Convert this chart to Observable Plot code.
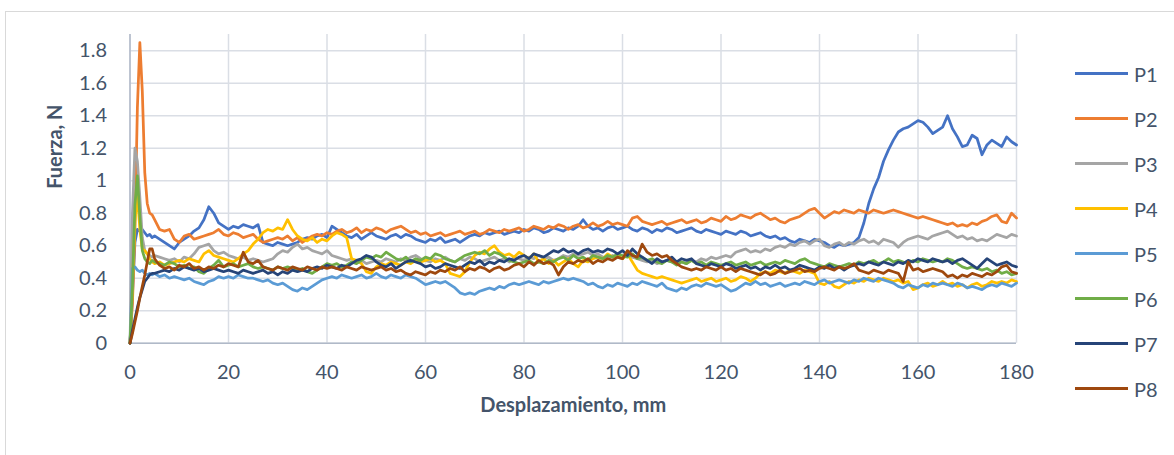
<!DOCTYPE html>
<html><head><meta charset="utf-8">
<script src="https://cdn.jsdelivr.net/npm/d3@7"></script>
<script src="https://cdn.jsdelivr.net/npm/@observablehq/plot@0.6"></script>
<style>
html,body{margin:0;padding:0;background:#fff;}
#wrap{position:relative;width:1174px;height:455px;overflow:hidden;font-family:Lato,sans-serif;color:#44546a;}
#frame{position:absolute;left:5px;top:11px;width:1200px;height:500px;border:1px solid #d9d9d9;box-sizing:border-box;}
#chart{position:absolute;left:0;top:0;}
.leg{position:absolute;left:1075px;height:24px;display:flex;align-items:center;font-size:20px;}
.leg .sw{display:inline-block;width:53px;height:2.75px;}
.leg .lb{margin-left:6px;}
</style></head><body>
<div id="wrap"><div id="frame"></div><div id="chart"></div><div id="legend"></div></div>
<script>
const names = ["P1","P2","P3","P4","P5","P6","P7","P8"];
const colors = ["#4472C4","#ED7D31","#A5A5A5","#FFC000","#5B9BD5","#70AD47","#264478","#9E480E"];
const xTicks = [0,20,40,60,80,100,120,140,160,180];
const yTicks = [0,0.2,0.4,0.6,0.8,1,1.2,1.4,1.6,1.8];
const yTickLabels = ["0","0.2","0.4","0.6","0.8","1","1.2","1.4","1.6","1.8"];

const xs = [0,0.5,1,1.5,2,2.5,3,3.5,4,4.5,
5,6,7,8,9,10,11,12,13,14,15,16,17,18,19,20,21,22,23,24,25,26,27,28,29,30,31,32,33,34,
35,36,37,38,39,40,41,42,43,44,45,46,47,48,49,50,51,52,53,54,55,56,57,58,59,60,61,62,63,64,
65,66,67,68,69,70,71,72,73,74,75,76,77,78,79,80,81,82,83,84,85,86,87,88,89,90,91,92,93,94,
95,96,97,98,99,100,101,102,103,104,105,106,107,108,109,110,111,112,113,114,115,116,117,118,119,120,121,122,123,124,
125,126,127,128,129,130,131,132,133,134,135,136,137,138,139,140,141,142,143,144,145,146,147,148,149,150,151,152,153,154,
155,156,157,158,159,160,161,162,163,164,165,166,167,168,169,170,171,172,173,174,175,176,177,178,179,180];

const P1 = [0,0.30,0.62,0.70,0.69,0.70,0.68,0.66,0.67,0.65,
0.66,0.64,0.62,0.60,0.58,0.62,0.64,0.66,0.69,0.71,
0.76,0.84,0.80,0.74,0.72,0.70,0.72,0.71,0.73,0.72,
0.71,0.73,0.62,0.61,0.60,0.62,0.61,0.60,0.61,0.62,
0.64,0.65,0.64,0.66,0.67,0.65,0.72,0.70,0.68,0.66,
0.65,0.67,0.64,0.66,0.68,0.66,0.65,0.64,0.66,0.67,
0.65,0.67,0.66,0.64,0.63,0.62,0.64,0.63,0.65,0.62,
0.63,0.64,0.62,0.64,0.66,0.67,0.66,0.68,0.67,0.68,
0.69,0.67,0.68,0.69,0.68,0.70,0.69,0.71,0.70,0.68,
0.69,0.71,0.70,0.69,0.71,0.70,0.72,0.76,0.72,0.70,
0.71,0.69,0.71,0.72,0.70,0.71,0.72,0.70,0.69,0.71,
0.70,0.68,0.70,0.69,0.71,0.70,0.68,0.69,0.70,0.71,
0.69,0.68,0.70,0.69,0.68,0.67,0.69,0.68,0.67,0.69,
0.68,0.66,0.67,0.68,0.66,0.65,0.66,0.64,0.65,0.63,
0.62,0.64,0.63,0.62,0.64,0.63,0.62,0.60,0.59,0.61,
0.60,0.61,0.62,0.65,0.74,0.86,0.95,1.02,1.12,1.19,
1.25,1.30,1.32,1.33,1.35,1.37,1.36,1.33,1.29,1.31,
1.33,1.40,1.32,1.27,1.21,1.22,1.28,1.26,1.16,1.22,
1.25,1.23,1.21,1.27,1.24,1.22];

const P2 = [0,0.25,0.70,1.45,1.85,1.55,1.05,0.86,0.80,0.79,
0.76,0.70,0.69,0.70,0.64,0.62,0.66,0.67,0.64,0.65,
0.66,0.67,0.68,0.70,0.67,0.66,0.68,0.67,0.65,0.66,
0.67,0.64,0.62,0.63,0.64,0.65,0.64,0.66,0.63,0.65,
0.62,0.64,0.66,0.67,0.66,0.68,0.67,0.69,0.70,0.68,
0.69,0.71,0.68,0.70,0.69,0.71,0.70,0.68,0.70,0.71,
0.72,0.70,0.68,0.69,0.67,0.68,0.66,0.67,0.68,0.66,
0.67,0.68,0.69,0.67,0.68,0.69,0.67,0.68,0.70,0.69,
0.68,0.70,0.69,0.70,0.71,0.69,0.70,0.72,0.71,0.70,
0.72,0.71,0.73,0.72,0.70,0.72,0.73,0.71,0.72,0.74,
0.72,0.73,0.75,0.73,0.74,0.73,0.72,0.77,0.78,0.75,
0.74,0.73,0.74,0.75,0.73,0.74,0.75,0.76,0.74,0.75,
0.76,0.74,0.75,0.77,0.76,0.75,0.78,0.76,0.77,0.79,
0.78,0.77,0.79,0.80,0.78,0.76,0.77,0.75,0.74,0.76,
0.77,0.78,0.80,0.82,0.83,0.80,0.77,0.79,0.81,0.80,
0.82,0.81,0.80,0.82,0.81,0.80,0.82,0.81,0.80,0.81,
0.82,0.81,0.80,0.79,0.78,0.77,0.78,0.77,0.76,0.75,
0.74,0.73,0.74,0.72,0.73,0.72,0.74,0.73,0.75,0.76,
0.78,0.79,0.75,0.74,0.80,0.77];

const P3 = [0,0.80,1.20,1.12,0.90,0.65,0.57,0.55,0.54,0.53,
0.54,0.53,0.52,0.51,0.52,0.50,0.53,0.52,0.55,0.59,
0.60,0.61,0.57,0.55,0.56,0.54,0.53,0.52,0.53,0.51,
0.52,0.51,0.50,0.51,0.52,0.55,0.57,0.56,0.59,0.61,
0.58,0.59,0.57,0.56,0.55,0.57,0.54,0.53,0.52,0.51,
0.52,0.50,0.51,0.49,0.50,0.51,0.50,0.52,0.51,0.50,
0.52,0.51,0.53,0.54,0.52,0.51,0.50,0.52,0.51,0.53,
0.51,0.50,0.52,0.51,0.53,0.52,0.50,0.51,0.52,0.53,
0.51,0.52,0.50,0.53,0.52,0.51,0.53,0.52,0.54,0.52,
0.53,0.51,0.52,0.54,0.53,0.55,0.54,0.55,0.56,0.54,
0.55,0.53,0.52,0.54,0.53,0.52,0.54,0.53,0.52,0.51,
0.50,0.51,0.49,0.50,0.51,0.50,0.49,0.50,0.49,0.51,
0.50,0.52,0.51,0.53,0.52,0.53,0.54,0.53,0.56,0.57,
0.58,0.56,0.57,0.56,0.58,0.57,0.59,0.60,0.59,0.61,
0.60,0.62,0.63,0.61,0.63,0.64,0.60,0.59,0.61,0.62,
0.60,0.62,0.61,0.63,0.64,0.62,0.63,0.61,0.64,0.63,
0.62,0.59,0.62,0.64,0.65,0.66,0.65,0.64,0.66,0.67,
0.68,0.69,0.67,0.65,0.66,0.64,0.65,0.63,0.64,0.63,
0.65,0.67,0.66,0.65,0.67,0.66];

const P4 = [0,0.35,0.75,0.92,0.70,0.58,0.57,0.55,0.52,0.50,
0.49,0.50,0.48,0.49,0.50,0.51,0.50,0.52,0.51,0.50,
0.55,0.57,0.54,0.53,0.52,0.51,0.50,0.52,0.55,0.57,
0.61,0.64,0.68,0.70,0.69,0.71,0.70,0.76,0.70,0.66,
0.64,0.63,0.65,0.62,0.64,0.63,0.66,0.68,0.67,0.65,
0.52,0.51,0.49,0.44,0.43,0.47,0.49,0.48,0.50,0.49,
0.48,0.50,0.49,0.51,0.50,0.51,0.52,0.50,0.51,0.49,
0.43,0.42,0.41,0.44,0.50,0.54,0.56,0.55,0.58,0.60,
0.56,0.54,0.55,0.53,0.56,0.54,0.52,0.55,0.50,0.52,
0.49,0.51,0.48,0.50,0.52,0.49,0.47,0.51,0.50,0.52,
0.53,0.52,0.55,0.53,0.54,0.52,0.55,0.50,0.45,0.43,
0.42,0.41,0.40,0.41,0.40,0.39,0.38,0.37,0.38,0.39,
0.40,0.38,0.39,0.40,0.38,0.39,0.40,0.38,0.39,0.41,
0.40,0.38,0.40,0.43,0.44,0.43,0.45,0.44,0.43,0.45,
0.44,0.43,0.45,0.44,0.43,0.37,0.36,0.38,0.35,0.34,
0.36,0.38,0.37,0.39,0.38,0.40,0.39,0.38,0.40,0.39,
0.38,0.39,0.37,0.38,0.33,0.34,0.36,0.37,0.35,0.36,
0.38,0.36,0.37,0.35,0.36,0.34,0.36,0.37,0.35,0.36,
0.38,0.37,0.38,0.37,0.39,0.38];

const P5 = [0,0.46,0.47,0.45,0.44,0.45,0.43,0.42,0.43,0.42,
0.43,0.41,0.42,0.40,0.41,0.40,0.39,0.40,0.38,0.37,
0.36,0.38,0.39,0.41,0.40,0.41,0.40,0.42,0.41,0.40,
0.40,0.39,0.38,0.39,0.37,0.36,0.37,0.35,0.33,0.32,
0.34,0.33,0.35,0.37,0.39,0.40,0.41,0.40,0.42,0.41,
0.40,0.41,0.42,0.40,0.41,0.43,0.41,0.40,0.42,0.41,
0.40,0.42,0.41,0.40,0.38,0.36,0.37,0.38,0.37,0.38,
0.36,0.34,0.31,0.30,0.31,0.30,0.32,0.33,0.34,0.33,
0.35,0.34,0.36,0.37,0.36,0.37,0.38,0.37,0.36,0.38,
0.37,0.38,0.39,0.40,0.39,0.40,0.39,0.38,0.36,0.37,
0.35,0.34,0.36,0.35,0.37,0.36,0.35,0.37,0.36,0.38,
0.37,0.36,0.35,0.37,0.34,0.33,0.32,0.34,0.33,0.35,
0.36,0.35,0.37,0.36,0.35,0.36,0.34,0.32,0.33,0.35,
0.37,0.36,0.38,0.36,0.37,0.35,0.36,0.37,0.35,0.36,
0.37,0.36,0.38,0.37,0.36,0.38,0.39,0.37,0.38,0.39,
0.38,0.37,0.39,0.38,0.40,0.39,0.38,0.40,0.39,0.38,
0.37,0.35,0.34,0.36,0.35,0.34,0.36,0.35,0.37,0.36,
0.37,0.36,0.35,0.37,0.36,0.34,0.35,0.34,0.33,0.35,
0.36,0.35,0.37,0.36,0.35,0.37];

const P6 = [0,0.35,0.85,1.03,0.78,0.57,0.52,0.50,0.49,0.51,
0.50,0.49,0.48,0.50,0.49,0.47,0.48,0.46,0.47,0.44,
0.43,0.46,0.48,0.51,0.47,0.48,0.49,0.47,0.48,0.49,
0.47,0.46,0.47,0.46,0.45,0.47,0.46,0.47,0.46,0.45,
0.46,0.44,0.43,0.45,0.47,0.49,0.48,0.49,0.47,0.48,
0.50,0.49,0.51,0.53,0.52,0.54,0.53,0.56,0.54,0.52,
0.51,0.53,0.50,0.52,0.51,0.53,0.52,0.55,0.54,0.52,
0.51,0.50,0.52,0.54,0.55,0.56,0.55,0.57,0.54,0.56,
0.55,0.53,0.51,0.50,0.49,0.50,0.51,0.49,0.50,0.49,
0.51,0.50,0.52,0.53,0.51,0.54,0.52,0.53,0.51,0.54,
0.53,0.52,0.54,0.53,0.55,0.54,0.53,0.55,0.52,0.53,
0.51,0.52,0.50,0.49,0.51,0.50,0.48,0.50,0.49,0.51,
0.49,0.50,0.48,0.50,0.49,0.48,0.49,0.50,0.48,0.49,
0.50,0.48,0.49,0.50,0.48,0.49,0.50,0.49,0.51,0.50,
0.49,0.51,0.52,0.50,0.49,0.48,0.47,0.49,0.48,0.47,
0.48,0.49,0.48,0.50,0.49,0.50,0.51,0.49,0.50,0.52,
0.50,0.51,0.50,0.49,0.51,0.50,0.52,0.51,0.50,0.51,
0.50,0.52,0.51,0.49,0.47,0.46,0.47,0.46,0.45,0.46,
0.44,0.45,0.43,0.44,0.42,0.43];

const P7 = [0,0.08,0.15,0.22,0.28,0.33,0.38,0.40,0.42,0.43,
0.43,0.44,0.45,0.44,0.46,0.45,0.47,0.46,0.45,0.46,
0.44,0.45,0.46,0.45,0.44,0.45,0.44,0.43,0.45,0.44,
0.43,0.44,0.45,0.43,0.44,0.42,0.44,0.43,0.45,0.44,
0.45,0.44,0.46,0.47,0.46,0.48,0.47,0.46,0.48,0.47,
0.49,0.51,0.52,0.54,0.53,0.50,0.48,0.47,0.49,0.46,
0.48,0.50,0.51,0.50,0.49,0.47,0.48,0.46,0.47,0.49,
0.48,0.47,0.46,0.48,0.50,0.49,0.51,0.48,0.50,0.49,
0.51,0.50,0.52,0.51,0.53,0.54,0.52,0.55,0.54,0.53,
0.55,0.57,0.56,0.58,0.56,0.57,0.55,0.57,0.58,0.56,
0.57,0.56,0.58,0.57,0.55,0.57,0.54,0.58,0.55,0.53,
0.51,0.49,0.52,0.50,0.51,0.53,0.50,0.52,0.51,0.52,
0.49,0.48,0.47,0.49,0.48,0.47,0.49,0.48,0.46,0.47,
0.48,0.46,0.47,0.45,0.47,0.46,0.48,0.46,0.47,0.45,
0.46,0.48,0.47,0.46,0.45,0.47,0.46,0.48,0.46,0.47,
0.45,0.47,0.48,0.49,0.48,0.50,0.49,0.48,0.50,0.49,
0.48,0.50,0.49,0.51,0.50,0.52,0.51,0.50,0.52,0.51,
0.50,0.51,0.49,0.51,0.52,0.50,0.48,0.46,0.49,0.52,
0.50,0.48,0.49,0.50,0.48,0.47];

const P8 = [0,0.06,0.13,0.20,0.28,0.35,0.42,0.50,0.58,0.58,
0.52,0.48,0.46,0.47,0.45,0.48,0.47,0.49,0.46,0.47,
0.45,0.47,0.46,0.48,0.47,0.49,0.48,0.47,0.56,0.50,
0.49,0.51,0.47,0.46,0.45,0.47,0.46,0.45,0.47,0.46,
0.45,0.47,0.46,0.45,0.47,0.46,0.47,0.46,0.45,0.47,
0.46,0.45,0.47,0.46,0.45,0.46,0.47,0.45,0.46,0.44,
0.45,0.43,0.42,0.44,0.43,0.42,0.44,0.43,0.45,0.44,
0.46,0.45,0.47,0.44,0.46,0.45,0.47,0.46,0.44,0.46,
0.47,0.45,0.46,0.48,0.49,0.47,0.50,0.48,0.51,0.49,
0.50,0.48,0.42,0.47,0.50,0.49,0.51,0.50,0.52,0.49,
0.51,0.50,0.52,0.51,0.53,0.52,0.57,0.54,0.53,0.61,
0.56,0.54,0.55,0.53,0.54,0.51,0.49,0.47,0.46,0.45,
0.46,0.45,0.47,0.46,0.45,0.47,0.45,0.46,0.44,0.46,
0.45,0.44,0.43,0.42,0.44,0.42,0.43,0.45,0.43,0.44,
0.45,0.46,0.44,0.45,0.44,0.46,0.47,0.46,0.45,0.47,
0.46,0.47,0.49,0.45,0.44,0.43,0.45,0.44,0.43,0.45,
0.44,0.43,0.38,0.50,0.45,0.46,0.44,0.45,0.46,0.45,
0.44,0.41,0.42,0.40,0.42,0.41,0.43,0.42,0.41,0.43,
0.42,0.44,0.47,0.48,0.44,0.43];

const series = [P1,P2,P3,P4,P5,P6,P7,P8];
const rows = [];
series.forEach((vals, i) => vals.forEach((v, j) => rows.push({s: names[i], x: xs[j], y: v})));

const gridColor = "#dadee5";
const axisColor = "#b0b9c8";
const textColor = "#44546a";

const chart = Plot.plot({
  width: 1174,
  height: 455,
  marginLeft: 129.5,
  marginRight: 158,
  marginTop: 34,
  marginBottom: 112.3,
  style: {fontFamily: "Lato, sans-serif", fontSize: "20px", color: textColor, background: "transparent"},
  x: {domain: [0, 180]},
  y: {domain: [0, 1.9]},
  color: {domain: names, range: colors},
  marks: [
    Plot.gridX(xTicks, {stroke: gridColor, strokeOpacity: 1, strokeWidth: 1.5}),
    Plot.gridY(yTicks, {stroke: gridColor, strokeOpacity: 1, strokeWidth: 1.5}),
    Plot.ruleX([0], {stroke: axisColor, strokeWidth: 1.5}),
    Plot.ruleY([0], {stroke: axisColor, strokeWidth: 1.5}),
    Plot.line(rows, {x: "x", y: "y", z: "s", stroke: "s", strokeWidth: 2.75, strokeLinejoin: "round"}),
    Plot.axisX(xTicks, {tickSize: 0, tickPadding: 22, label: null}),
    Plot.axisY(yTicks, {tickSize: 0, tickPadding: 23, label: null, tickFormat: (d, i) => yTickLabels[i]}),
    Plot.text(["Desplazamiento, mm"], {frameAnchor: "bottom", dy: 69, fontWeight: "bold", fill: textColor, fontSize: 20}),
    Plot.text(["Fuerza, N"], {frameAnchor: "left", dx: -74.5, rotate: -90, fontWeight: "bold", fill: textColor, fontSize: 20})
  ]
});
document.getElementById("chart").appendChild(chart);

const leg = d3.select("#legend");
names.forEach((n, i) => {
  const d = leg.append("div").attr("class", "leg").style("top", (73.7 + 45 * i - 12) + "px");
  d.append("span").attr("class", "sw").style("background", colors[i]);
  d.append("span").attr("class", "lb").text(n);
});
</script>
</body></html>
